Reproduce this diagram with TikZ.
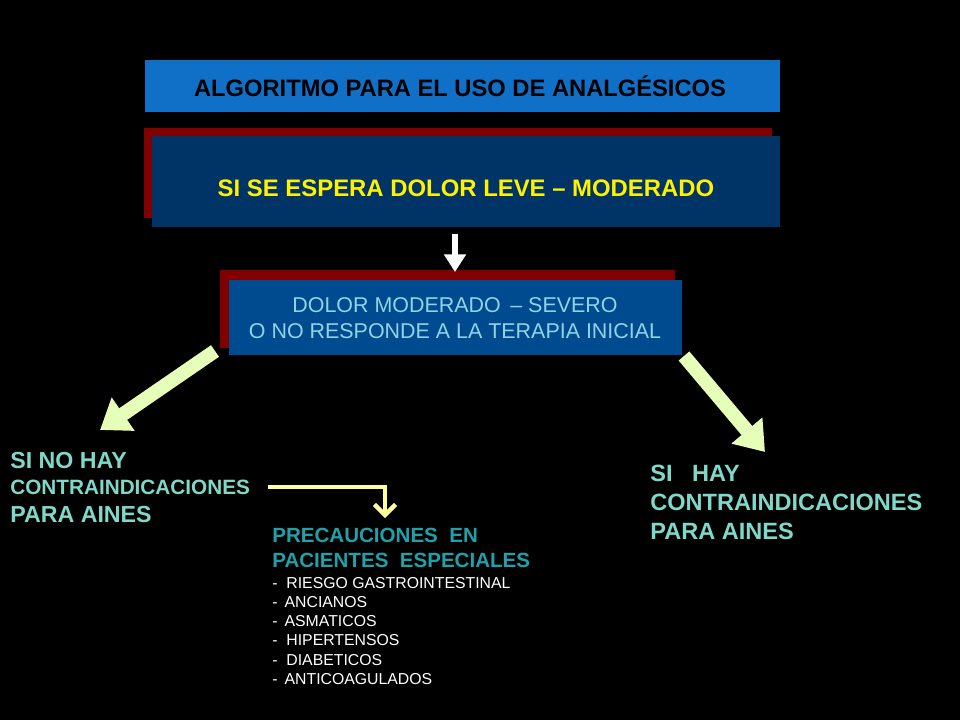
\documentclass[tikz,border=0pt]{standalone}
\usepackage{fontspec}
\setmainfont{Liberation Sans}
\usetikzlibrary{arrows.meta}
\definecolor{titleblue}{HTML}{1070C8}
\definecolor{navy}{HTML}{003366}
\definecolor{midblue}{HTML}{004A90}
\definecolor{darkred}{HTML}{800000}
\definecolor{lightcyan}{HTML}{90D4E4}
\definecolor{mint}{HTML}{80D8C8}
\definecolor{teal}{HTML}{20A0A8}
\definecolor{paleyg}{HTML}{E6FFB8}
\definecolor{paley}{HTML}{FFFF99}
\tikzset{
  bigarrow/.style={line width=8pt, draw=paleyg, -{Triangle[length=16pt,width=22pt]}},
  listtext/.style={anchor=west, text=white, font=\fontsize{9}{10}\selectfont, inner sep=0pt},
  notext/.style={anchor=west, text=mint, inner sep=0pt, font=\bfseries},
}
\begin{document}
\begin{tikzpicture}[x=0.02cm,y=-0.02cm]
  \fill[black] (0,0) rectangle (960,720);

  %% title
  \fill[titleblue] (145,60) rectangle (780,112);
  \node (title) at (460,86) {\fontsize{13.5}{15}\selectfont\bfseries ALGORITMO PARA EL USO DE ANALGÉSICOS};

  %% leve - moderado
  \fill[darkred] (144,128) rectangle (772,218);
  \fill[navy] (152,136) rectangle (780,227);
  \node[text=yellow] (leve) at (466,188) {\fontsize{13.6}{15}\selectfont\bfseries SI SE ESPERA DOLOR LEVE – MODERADO};
  \coordinate (leveb) at (455,234);

  %% moderado - severo
  \fill[darkred] (220,270) rectangle (675,348);
  \fill[midblue] (229,280) rectangle (682,355);
  \node[text=lightcyan, align=center, font=\fontsize{12.2}{14.5}\selectfont] (sev) at (455,318)
    {DOLOR MODERADO \,– SEVERO\\O NO RESPONDE A LA TERAPIA INICIAL};
  \coordinate (sevt) at (455,272);
  \coordinate (sevl) at (215,351);
  \coordinate (sevr) at (684,356);

  \draw[line width=3.5pt, white, -{Triangle[length=10pt,width=12pt]}] (leveb) -- (sevt);

  %% left branch
  \node[notext, font=\bfseries\fontsize{13.2}{15}\selectfont] (no1) at (10,461) {SI NO HAY};
  \node[notext, font=\bfseries\fontsize{11.8}{14}\selectfont] (no2) at (10,487) {CONTRAINDICACIONES};
  \node[notext, font=\bfseries\fontsize{13.2}{15}\selectfont] (no3) at (10,515) {PARA AINES};
  \coordinate (nol) at (100,430);
  \draw[bigarrow] (sevl) -- (nol);

  %% right branch
  \node[anchor=west, text=mint, align=left, inner sep=0pt, font=\bfseries\fontsize{13.4}{16.5}\selectfont] (si) at (650,502)
    {SI \ \ HAY\\CONTRAINDICACIONES\\PARA AINES};
  \coordinate (sil) at (765,452);
  \draw[bigarrow] (sevr) -- (sil);

  %% precauciones
  \node[anchor=west, text=teal, align=left, inner sep=0pt, font=\bfseries\fontsize{11.7}{14}\selectfont] (prec) at (272,548)
    {PRECAUCIONES \ EN\\PACIENTES \ ESPECIALES};
  \coordinate (nor) at (268,487);
  \coordinate (precb) at (385,518);
  \draw[paley, line width=2.5pt, -{Straight Barb[length=6pt,width=12pt]}] (nor) -- (385,487) -- (precb);

  \node[listtext] (l1) at (272,583) {- \ RIESGO GASTROINTESTINAL};
  \node[listtext] (l2) at (272,602) {- \,ANCIANOS};
  \node[listtext] (l3) at (272,621) {- \,ASMATICOS};
  \node[listtext] (l4) at (272,640) {- \ HIPERTENSOS};
  \node[listtext] (l5) at (272,660) {- \ DIABETICOS};
  \node[listtext] (l6) at (272,679) {- \,ANTICOAGULADOS};
\end{tikzpicture}
\end{document}
